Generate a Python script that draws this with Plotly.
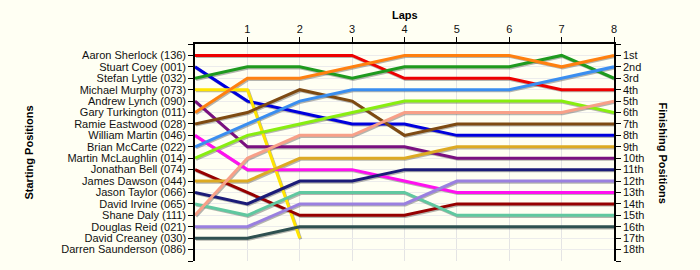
import plotly.graph_objects as go

laps = [0, 1, 2, 3, 4, 5, 6, 7, 8]
lap_ticks = [1, 2, 3, 4, 5, 6, 7, 8]

riders = [
    "Aaron Sherlock (136)", "Stuart Coey (001)", "Stefan Lyttle (032)",
    "Michael Murphy (073)", "Andrew Lynch (090)", "Gary Turkington (011)",
    "Ramie Eastwood (028)", "William Martin (046)", "Brian McCarte (022)",
    "Martin McLaughlin (014)", "Jonathan Bell (074)", "James Dawson (044)",
    "Jason Taylor (066)", "David Irvine (065)", "Shane Daly (111)",
    "Douglas Reid (021)", "David Creaney (030)", "Darren Saunderson (086)",
]

finish_labels = ["1st", "2nd", "3rd", "4th", "5th", "6th", "7th", "8th", "9th",
                 "10th", "11th", "12th", "13th", "14th", "15th", "16th", "17th", "18th"]

N = None
aaron_sherlock = [1, 1, 1, 1, 3, 3, 3, 4, 4]
stuart_coey = [2, 5, 6, 7, 7, 8, 8, 8, 8]
stefan_lyttle = [3, 2, 2, 3, 2, 2, 2, 1, 3]
michael_murphy = [4, 4, 17, N, N, N, N, N, N]
andrew_lynch = [5, 9, 9, 9, 9, 10, 10, 10, 10]
gary_turkington = [6, 3, 3, 2, 1, 1, 1, 2, 1]
ramie_eastwood = [7, 6, 4, 5, 8, 7, 7, 7, 7]
william_martin = [8, 11, 11, 11, 12, 13, 13, 13, 13]
brian_mccarte = [9, 7, 5, 4, 4, 4, 4, 3, 2]
martin_mclaughlin = [10, 8, 7, 6, 5, 5, 5, 5, 6]
jonathan_bell = [11, 13, 15, 15, 15, 14, 14, 14, 14]
james_dawson = [12, 12, 10, 10, 10, 9, 9, 9, 9]
jason_taylor = [13, 14, 12, 12, 11, 11, 11, 11, 11]
david_irvine = [14, 15, 13, 13, 13, 15, 15, 15, 15]
shane_daly = [15, 10, 8, 8, 6, 6, 6, 6, 5]
douglas_reid = [16, 16, 14, 14, 14, 12, 12, 12, 12]
david_creaney = [17, 17, 16, 16, 16, 16, 16, 16, 16]
darren_saunderson = [N, N, N, N, N, N, N, N, N]

positions = [
    aaron_sherlock, stuart_coey, stefan_lyttle, michael_murphy, andrew_lynch,
    gary_turkington, ramie_eastwood, william_martin, brian_mccarte,
    martin_mclaughlin, jonathan_bell, james_dawson, jason_taylor, david_irvine,
    shane_daly, douglas_reid, david_creaney, darren_saunderson,
]

colors = [
    "#EE0000", "#0000DD", "#1E9A1E", "#FFE400", "#7A1080", "#FF8010",
    "#7E4A12", "#FF10F0", "#3A8EF0", "#88EE10", "#960000", "#DDAA22",
    "#1C1C78", "#60C8A0", "#F8A088", "#9A80E0", "#2E5050", "#888888",
]

BG = "#FFFFF3"
FONT = "Liberation Sans, Arial, sans-serif"

fig = go.Figure()

# subtle drop shadows drawn on a slightly offset overlay subplot (drawn first)
for pos in positions:
    fig.add_trace(go.Scatter(
        x=laps, y=pos, mode="lines", xaxis="x3", yaxis="y3",
        line=dict(color="rgba(70,70,70,0.4)", width=3),
        hoverinfo="skip", showlegend=False,
    ))

# coloured lines on an overlay subplot with the same ranges as the main axes
for name, pos, col in zip(riders, positions, colors):
    fig.add_trace(go.Scatter(
        x=laps, y=pos, mode="lines", name=name, xaxis="x4", yaxis="y4",
        line=dict(color=col, width=3), showlegend=False,
    ))

# invisible traces to activate main and right axes
fig.add_trace(go.Scatter(x=[0], y=[1], mode="markers",
                         marker=dict(opacity=0), hoverinfo="skip", showlegend=False))
fig.add_trace(go.Scatter(x=[0], y=[1], yaxis="y2", mode="markers",
                         marker=dict(opacity=0), hoverinfo="skip", showlegend=False))

ytickvals = list(range(0, 20))
left_text = [""] + riders + [""]
right_text = [""] + finish_labels + [""]

fig.update_layout(
    width=700, height=270,
    margin=dict(l=195, r=86, t=44, b=9),
    paper_bgcolor=BG, plot_bgcolor=BG,
    font=dict(family=FONT, size=11, color="#111111"),
    xaxis=dict(
        side="top", range=[0, 8], tickvals=lap_ticks,
        showgrid=True, gridcolor="#E4E4E4", gridwidth=1,
        showline=True, linecolor="#000000", linewidth=1.5,
        ticks="outside", ticklen=5, tickcolor="#000000",
        zeroline=False, tickfont=dict(size=11, color="#111111"),
    ),
    yaxis=dict(
        range=[19, 0], tickvals=ytickvals, ticktext=left_text,
        showgrid=True, gridcolor="#ECECEC", gridwidth=1,
        showline=True, linecolor="#000000", linewidth=1.5,
        ticks="outside", ticklen=5, tickcolor="#000000",
        zeroline=False, tickfont=dict(size=11, color="#111111"),
    ),
    yaxis2=dict(
        range=[19, 0], tickvals=ytickvals, ticktext=right_text,
        overlaying="y", side="right", showgrid=False,
        showline=True, linecolor="#000000", linewidth=1.5,
        ticks="outside", ticklen=5, tickcolor="#000000",
        zeroline=False, tickfont=dict(size=11, color="#111111"),
    ),
    xaxis3=dict(overlaying="x", range=[-0.02, 7.98], visible=False),
    yaxis3=dict(overlaying="y", range=[19 - 0.1, -0.1], visible=False),
    xaxis4=dict(overlaying="x", range=[0, 8], visible=False),
    yaxis4=dict(overlaying="y", range=[19, 0], visible=False),
    annotations=[
        dict(text="<b>Laps</b>", x=0.5, xref="paper", xanchor="center",
             y=1 + (44 - 15) / 217, yref="paper", yanchor="middle",
             showarrow=False, font=dict(size=11, color="#000000")),
        dict(text="<b>Starting Positions</b>", x=28 / 419 - 195 / 419, xref="paper",
             xanchor="center", y=0.5, yref="paper", yanchor="middle",
             textangle=-90, showarrow=False, font=dict(size=11, color="#000000")),
        dict(text="<b>Finishing Positions</b>", x=(663 - 195) / 419, xref="paper",
             xanchor="center", y=0.5, yref="paper", yanchor="middle",
             textangle=90, showarrow=False, font=dict(size=11, color="#000000")),
    ],
)

fig.write_html("out.html")
